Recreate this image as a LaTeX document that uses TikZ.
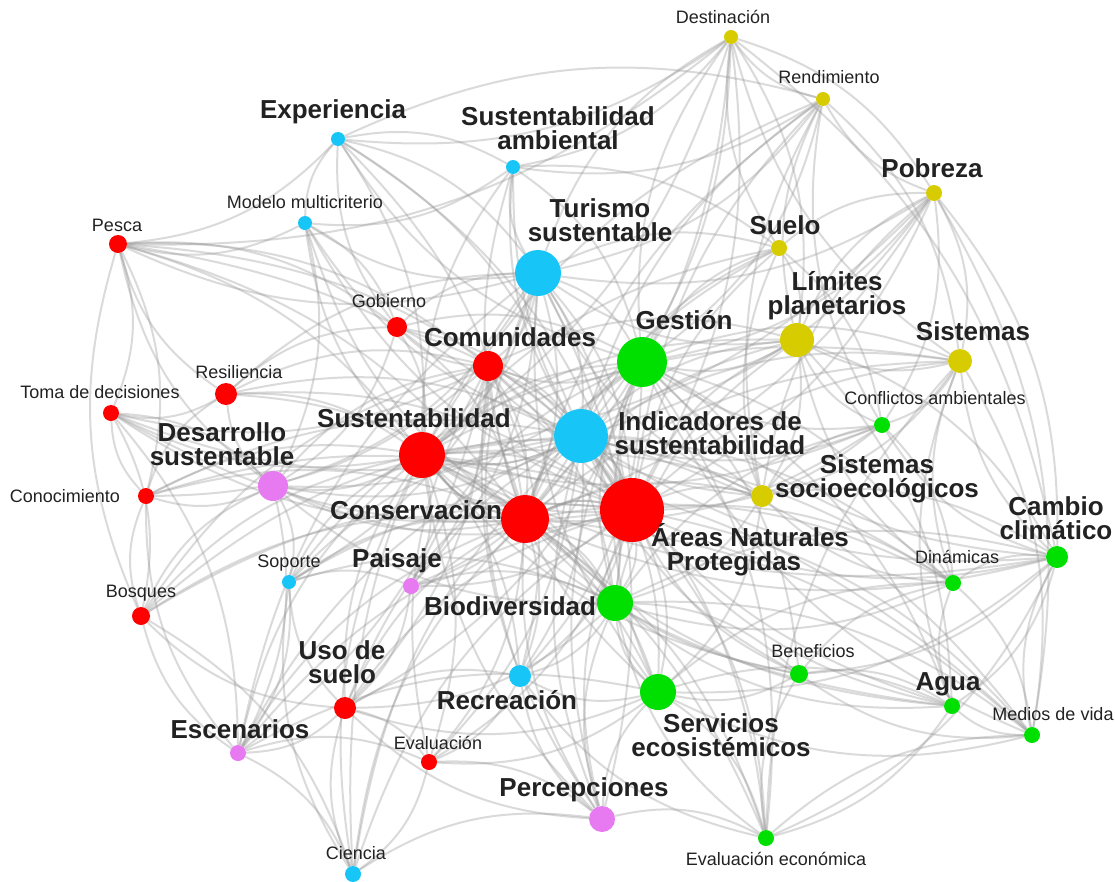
\documentclass[tikz,border=0pt]{standalone}
\usepackage{fontspec}
\setmainfont{Liberation Sans}
\definecolor{cR}{HTML}{FF0000}
\definecolor{cB}{HTML}{17C5F7}
\definecolor{cG}{HTML}{00E000}
\definecolor{cY}{HTML}{D6CC00}
\definecolor{cP}{HTML}{E77AF0}
\definecolor{txt}{HTML}{222222}
\pgfdeclarelayer{bg}
\pgfsetlayers{bg,main}
\tikzset{
  dot/.style={circle, inner sep=0pt, draw=none},
  edge/.style={draw=black!40, line width=2pt, opacity=0.36},
  big/.style={font=\bfseries\fontsize{26}{24}\selectfont, text=txt, align=center, inner sep=0pt},
  small/.style={font=\fontsize{18}{20}\selectfont, text=txt, inner sep=0pt},
}
\begin{document}
\begin{tikzpicture}[x=1pt,y=-1pt]
\useasboundingbox (0,0) rectangle (1115,881);
% nodes
\foreach \n/\x/\y/\r/\c in {
dest/731/37/7/cY, rend/823/99/7/cY, expe/338/139/7/cB, samb/513/167/7/cB,
pobr/934/193/8/cY, mod/305/223/7/cB, pesc/118/244/9/cR, suel/779/248/8/cY,
tur/538/273/23/cB, lim/797/340/17/cY, gob/397/327/10/cR, gest/642/362/25/cG,
com/488/366/15/cR, sist/960/361/12/cY, resi/226/394/11/cR, toma/111/413/8/cR,
conf/882/425/8/cG, sus/422/455/23/cR, ind/581/436/27/cB, des/273/486/15/cP,
cono/146/496/8/cR, soc/762/496/11/cY, cons/525/519/24/cR, anp/632/510/32/cR,
cam/1057/557/11/cG, din/953/583/8/cG, sop/289/582/7/cB, pai/411/586/8/cP,
bos/141/616/9/cR, bio/615/603/18/cG, ben/799/674/9/cG, rec/520/676/11/cB,
uso/345/708/11/cR, serv/658/692/18/cG, agua/952/706/8/cG, med/1032/735/8/cG,
esc/238/753/8/cP, eva/429/762/8/cR, perc/602/819/13/cP, evec/766/838/8/cG,
cien/353/874/8/cB}
{ \node[dot, minimum size=2*\r, fill=\c] (\n) at (\x,\y) {}; }
% edges
\begin{pgfonlayer}{bg}
\fill[white] (0,0) rectangle (1115,881);
\foreach \h in {anp,cons,ind,sus}{
  \foreach \t [count=\i] in {dest,rend,expe,samb,pobr,mod,pesc,suel,tur,lim,gob,gest,com,sist,resi,toma,conf,sus,ind,des,cono,soc,cons,anp,cam,din,sop,pai,bos,bio,ben,rec,uso,serv,agua,med,esc,eva,perc,evec,cien}{
    \ifx\h\t\else
      \pgfmathsetmacro\ang{mod(\i,2)==0 ? 18 : -18}
      \draw[edge] (\h) to[bend left=\ang] (\t);
    \fi
  }
}
\foreach \a/\b [count=\i] in {
gest/tur, gest/com, gest/lim, gest/sist, gest/conf, gest/soc, gest/cam, gest/din, gest/bio, gest/ben, gest/serv, gest/agua, gest/med, gest/evec, gest/perc, gest/rec, gest/pobr, gest/suel, gest/rend, gest/dest, gest/samb, gest/expe, gest/gob, gest/des, gest/pai, gest/uso, gest/sop,
tur/samb, tur/expe, tur/mod, tur/gob, tur/com, tur/lim, tur/suel, tur/rend, tur/dest, tur/pobr, tur/des, tur/resi, tur/pai, tur/rec, tur/bio, tur/serv, tur/perc, tur/soc, tur/sop, tur/esc, tur/pesc, tur/cien,
com/gob, com/resi, com/toma, com/des, com/cono, com/pesc, com/lim, com/soc, com/bio, com/serv, com/rec, com/perc, com/uso, com/eva, com/esc, com/bos, com/pai,
bio/serv, bio/ben, bio/agua, bio/med, bio/din, bio/cam, bio/perc, bio/rec, bio/evec, bio/uso, bio/pai, bio/des, bio/soc, bio/conf, bio/sop, bio/lim,
serv/ben, serv/agua, serv/med, serv/evec, serv/perc, serv/rec, serv/cam, serv/din, serv/soc, serv/uso, serv/esc, serv/eva,
lim/suel, lim/pobr, lim/sist, lim/rend, lim/dest, lim/soc, lim/conf, lim/cam, lim/din, lim/agua,
dest/rend, dest/expe, dest/sist, dest/pobr, dest/suel, dest/samb, rend/pobr, rend/sist, rend/soc, rend/samb, rend/conf,
expe/pesc, expe/mod, expe/samb, expe/gob, pesc/toma, pesc/resi, pesc/cono, pesc/mod, pesc/gob, pesc/bos,
pobr/sist, pobr/suel, pobr/conf, pobr/soc, pobr/cam, sist/cam, sist/conf, sist/din, sist/soc, sist/agua, sist/med,
cam/din, cam/agua, cam/med, cam/conf, cam/soc, cam/ben, agua/med, agua/din, agua/ben, agua/evec, med/din, med/ben,
ben/evec, ben/din, evec/perc, evec/rec, perc/cien, perc/rec, perc/eva, perc/uso, cien/esc, cien/uso, cien/eva, cien/sop,
esc/uso, esc/bos, esc/des, esc/eva, esc/sop, bos/cono, bos/toma, bos/des, bos/uso, cono/toma, cono/des, cono/resi,
toma/resi, toma/des, resi/des, resi/gob, gob/mod, gob/des, sop/des, sop/pai, sop/uso, uso/eva, uso/pai, uso/rec, eva/rec,
mod/des, mod/samb, samb/suel, suel/soc, suel/conf, soc/din, soc/conf, din/conf,
dest/pesc, rend/expe, pobr/med, sist/evec, cam/evec, med/evec, bos/cien, cono/esc, toma/esc, pesc/des, dest/cam}
{
  \pgfmathsetmacro\ang{mod(\i,2)==0 ? 20 : -20}
  \draw[edge] (\a) to[bend left=\ang] (\b);
}
\end{pgfonlayer}
% labels
\node[small] (l-dest) at (723,17) {Destinación};
\node[small] (l-rend) at (829,77) {Rendimiento};
\node[big] (l-expe) at (333,112) {Experiencia};
\node[big] (l-samb) at (558,128) {Sustentabilidad\\ambiental};
\node[big] (l-pobr) at (932,168) {Pobreza};
\node[small] (l-mod) at (305,202) {Modelo multicriterio};
\node[small] (l-pesc) at (117,225) {Pesca};
\node[big] (l-suel) at (785,225) {Suelo};
\node[big] (l-tur) at (600,220) {Turismo\\sustentable};
\node[big] (l-lim) at (837,296) {Límites\\planetarios};
\node[small] (l-gob) at (389,301) {Gobierno};
\node[big] (l-gest) at (684,320) {Gestión};
\node[big] (l-com) at (510,337) {Comunidades};
\node[big] (l-sist) at (973,331) {Sistemas};
\node[small] (l-resi) at (239,372) {Resiliencia};
\node[small] (l-toma) at (100,392) {Toma de decisiones};
\node[small] (l-conf) at (935,398) {Conflictos ambientales};
\node[big] (l-sus) at (414,418) {Sustentabilidad};
\node[big] (l-ind) at (710,433) {Indicadores de\\sustentabilidad};
\node[big] (l-des) at (222,444) {Desarrollo\\sustentable};
\node[small] (l-cono) at (65,496) {Conocimiento};
\node[big] (l-soc) at (877,479) {Sistemas\\socioecológicos};
\node[big] (l-cons) at (416,510) {Conservación};
\node[big] (l-anp) at (750,550) {Áreas Naturales\\Protegidas\hspace*{32pt}};
\node[big] (l-cam) at (1056,518) {Cambio\\climático};
\node[small] (l-din) at (957,557) {Dinámicas};
\node[small] (l-sop) at (289,563) {Soporte};
\node[big] (l-pai) at (397,561) {Paisaje};
\node[small] (l-bos) at (141,593) {Bosques};
\node[big] (l-bio) at (510,606) {Biodiversidad};
\node[small] (l-ben) at (813,651) {Beneficios};
\node[big] (l-rec) at (507,700) {Recreación};
\node[big] (l-uso) at (342,662) {Uso de\\suelo};
\node[big] (l-serv) at (721,735) {Servicios\\ecosistémicos};
\node[big] (l-agua) at (948,684) {Agua};
\node[small] (l-med) at (1053,714) {Medios de vida};
\node[big] (l-esc) at (240,729) {Escenarios};
\node[small] (l-eva) at (438,743) {Evaluación};
\node[big] (l-perc) at (584,790) {Percepciones};
\node[small] (l-evec) at (776,859) {Evaluación económica};
\node[small] (l-cien) at (356,853) {Ciencia};
\end{tikzpicture}
\end{document}
